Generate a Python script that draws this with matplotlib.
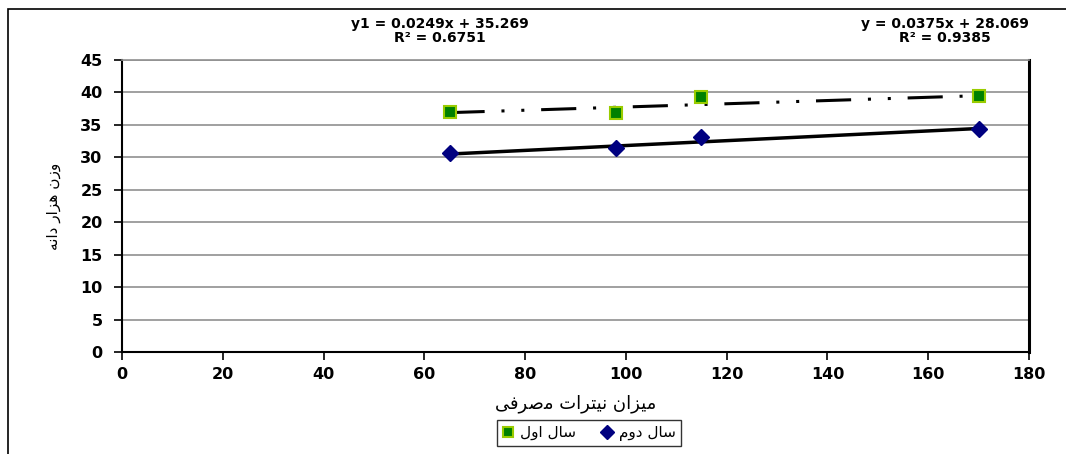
import matplotlib
matplotlib.use('Agg')
import matplotlib.pyplot as plt
from matplotlib.patches import Rectangle

# nitrate applied vs 1000-grain weight
x_year1 = [65, 98, 115, 170]
y_year1 = [37.0, 36.8, 39.3, 39.4]
x_year2 = [65, 98, 115, 170]
y_year2 = [30.7, 31.4, 33.1, 34.4]

# fitted trend lines (as printed on the chart)
fit1 = (0.0249, 35.269)
fit2 = (0.0375, 28.069)
eq1 = 'y1 = 0.0249x + 35.269\nR² = 0.6751'
eq2 = 'y = 0.0375x + 28.069\nR² = 0.9385'

# persian labels, pre-shaped in visual order (matplotlib has no bidi shaping)
label_year1 = '\uFEDD\uFEED\uFE8D \uFEDD\uFE8E\uFEB3'      # sal avval
label_year2 = '\uFEE1\uFEED\uFEA9 \uFEDD\uFE8E\uFEB3'      # sal dovvom
ylabel_txt = '\uFEEA\uFEE7\uFE8D\uFEA9 \uFEAD\uFE8D\uFEB0\uFEEB \uFEE5\uFEAF\uFEED'
xlabel_txt = ('\uFBFD\uFED3\uFEAE\uFEBB\uFEE3 '
              '\uFE95\uFE8D\uFEAE\uFE98\uFBFF\uFEE7 '
              '\uFEE5\uFE8D\uFEB0\uFBFF\uFEE3')

fig = plt.figure(figsize=(10.66, 4.54), dpi=100)
ax = fig.add_axes([122/1066, 1-352/454, (1029-122)/1066, (352-60)/454])

# outer chart frame
fig.patches.append(Rectangle((8/1066, -0.1), 1.2, 1-9/454+0.1, transform=fig.transFigure,
                             fill=False, edgecolor='black', linewidth=1.2))

for y in range(5, 50, 5):
    ax.axhline(y, color='#909090', linewidth=1.2, zorder=0)

xs1 = [min(x_year1), max(x_year1)]
xs2 = [min(x_year2), max(x_year2)]
ax.plot(xs1, [fit1[0]*v + fit1[1] for v in xs1], color='black', linewidth=2.2,
        linestyle=(0, (11.5, 5.5, 1, 5.5, 1, 5.5)), dash_capstyle='butt', zorder=2)
ax.plot(xs2, [fit2[0]*v + fit2[1] for v in xs2], color='black', linewidth=2.5, zorder=2)

ax.plot(x_year1, y_year1, linestyle='none', marker='s', markersize=9,
        markerfacecolor='#008000', markeredgecolor='#99CC00', markeredgewidth=1.5,
        label=label_year1, zorder=3)
ax.plot(x_year2, y_year2, linestyle='none', marker='D', markersize=8,
        markerfacecolor='#000080', markeredgecolor='#000080',
        label=label_year2, zorder=3)

ax.set_xlim(0, 180)
ax.set_ylim(0, 45)
ax.set_xticks(range(0, 181, 20))
ax.set_yticks(range(0, 46, 5))
for lab in ax.get_xticklabels() + ax.get_yticklabels():
    lab.set_fontfamily('DejaVu Sans')
    lab.set_fontweight('bold')
    lab.set_fontsize(11.5)
ax.tick_params(axis='y', direction='out', length=6, width=1.2, color='black', pad=8)
ax.tick_params(axis='x', direction='out', length=6, width=1.2, color='black', pad=5)

ax.spines['top'].set_color('#909090')
ax.spines['top'].set_linewidth(1.2)
ax.spines['left'].set_linewidth(1.5)
ax.spines['bottom'].set_linewidth(1.5)
ax.spines['right'].set_linewidth(2.2)

ax.set_xlabel(xlabel_txt, fontfamily='DejaVu Sans', fontsize=13, labelpad=9)
ax.set_ylabel(ylabel_txt, fontfamily='DejaVu Sans', fontsize=11, labelpad=14)

eq_font = dict(family='DejaVu Sans', weight='bold', size=10)
fig.text(440/1066, 1-31/454, eq1, ha='center', va='center', linespacing=1.0, **eq_font)
fig.text(945/1066, 1-31/454, eq2, ha='center', va='center', linespacing=1.0, **eq_font)

leg = fig.legend(loc='center', bbox_to_anchor=(589/1066, 1-433/454), ncol=2,
                 frameon=True, fancybox=False, edgecolor='black',
                 handlelength=0.8, handletextpad=0.4, columnspacing=1.6,
                 borderpad=0.35, markerscale=0.85,
                 prop={'family': 'DejaVu Sans', 'size': 11})
leg.get_frame().set_linewidth(1.0)

fig.savefig('out.png', dpi=100)
